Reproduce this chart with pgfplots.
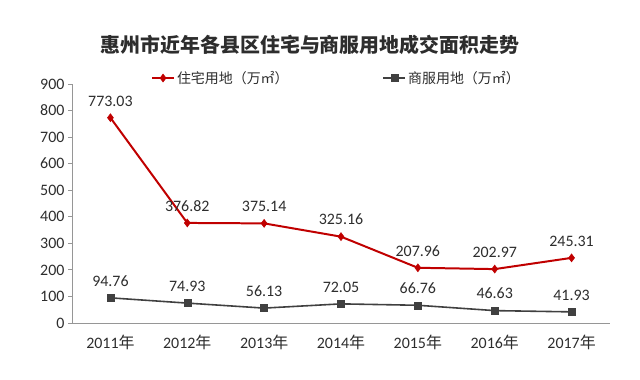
\documentclass[border=0pt]{standalone}
\usepackage{fontspec}
\setmainfont{Carlito}
\newfontfamily\cjk{Noto Sans CJK SC}
\usepackage{pgfplots}
\pgfplotsset{compat=1.18}
\definecolor{redl}{RGB}{192,0,0}
\definecolor{greyl}{RGB}{64,64,64}
\definecolor{txt}{RGB}{45,45,45}
\definecolor{axgrey}{RGB}{150,150,150}
\begin{document}
\begin{tikzpicture}[x=1bp,y=1bp]
\begin{axis}[
  at={(0,0)}, anchor=south west,
  scale only axis, width=538bp, height=239bp,
  xmin=-0.5, xmax=6.5, ymin=0, ymax=900,
  axis lines*=left,
  axis line style={draw=axgrey, line width=0.8pt},
  xtick={0,...,6},
  xticklabels={2011{\cjk 年},2012{\cjk 年},2013{\cjk 年},2014{\cjk 年},2015{\cjk 年},2016{\cjk 年},2017{\cjk 年}},
  major x tick style={draw=none},
  ytick={0,100,...,900},
  tick align=outside, major tick length=4bp,
  major y tick style={draw=axgrey, line width=0.8pt},
  tick label style={font=\fontsize{16}{18}\selectfont, text=txt},
  /pgf/number format/assume math mode=true,
  yticklabel style={xshift=0bp},
  xticklabel style={yshift=-5bp},
  point meta=explicit symbolic,
  nodes near coords,
  every node near coord/.append style={font=\fontsize{16}{18}\selectfont, text=txt, yshift=8bp},
  legend columns=2,
  legend style={at={(0.141,1.025)}, anchor=west, draw=none, fill=none,
    font=\cjk\fontsize{14}{16}\selectfont, text=txt,
    /tikz/every even column/.style={column sep=92bp}},
  legend image code/.code={\draw[#1] (0bp,0bp) -- (22bp,0bp); \path[#1,mark repeat=2,mark phase=2] plot coordinates {(0bp,0bp) (11bp,0bp) (22bp,0bp)};},
  clip=false,
]
\addplot[color=redl, line width=2pt, mark=diamond*, mark size=4bp, mark options={fill=redl, line width=0.5pt}] coordinates {
  (0,773.03) [773.03]
  (1,376.82) [376.82]
  (2,375.14) [375.14]
  (3,325.16) [325.16]
  (4,207.96) [207.96]
  (5,202.97) [202.97]
  (6,245.31) [245.31]
};
\addlegendentry{住宅用地（万㎡）}
\addplot[color=greyl, line width=1.6pt, mark=square*, mark size=3.5bp, mark options={fill=greyl, line width=0.5pt}] coordinates {
  (0,94.76) [94.76]
  (1,74.93) [74.93]
  (2,56.13) [56.13]
  (3,72.05) [72.05]
  (4,66.76) [66.76]
  (5,46.63) [46.63]
  (6,41.93) [41.93]
};
\addlegendentry{商服用地（万㎡）}
\end{axis}
\node[font=\cjk\bfseries\fontsize{20}{24}\selectfont, text=txt] at (238,278) {惠州市近年各县区住宅与商服用地成交面积走势};
\path (-72,-56) rectangle (568,323);
\end{tikzpicture}
\end{document}
